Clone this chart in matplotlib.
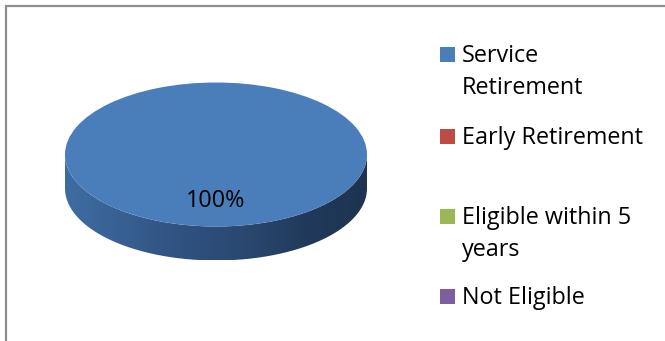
import numpy as np
import matplotlib
matplotlib.use("Agg")
import matplotlib.pyplot as plt
from matplotlib.colors import LinearSegmentedColormap
from matplotlib.patches import PathPatch, Rectangle
from matplotlib.path import Path

W, H = 665, 341

categories = ["Service\nRetirement", "Early Retirement", "Eligible within 5\nyears", "Not Eligible"]
shares = [100, 0, 0, 0]
colors = ["#4a7ebb", "#be4b48", "#98b954", "#7d5fa0"]
legend_y = [54, 136, 216, 296]
side_colors = ["#3f6da3", "#375f90", "#2f5180", "#2a486f", "#213a5c", "#1d3350"]

plt.rcParams["font.family"] = ["Open Sans", "DejaVu Sans"]

fig = plt.figure(figsize=(W / 100, H / 100), dpi=100)

# page-level axes in pixel units, y pointing down
bg = fig.add_axes([0, 0, 1, 1])
bg.axis("off")

# chart frame, only the top and left edges fall on the page
bg.plot([5.5, 5.5, W], [H, 5.5, 5.5], color="#8e8e8e", lw=1.6, solid_joinstyle="miter")

cx, cy, rx, ry, depth = 216, 154.5, 151, 72, 34

# side wall of the disc
t = np.linspace(np.pi, 0, 120)
lower_x = cx + rx * np.cos(t)
lower_y = cy + ry * np.sin(t)
wall_x = np.r_[lower_x, lower_x[::-1]]
wall_y = np.r_[lower_y + depth, lower_y[::-1]]
wall = Path(np.c_[wall_x, wall_y])
cmap = LinearSegmentedColormap.from_list("side", side_colors)
img = bg.imshow(np.linspace(0, 1, 256)[None, :], cmap=cmap, aspect="auto",
                extent=(cx - rx, cx + rx, cy + ry + depth, cy), zorder=1)
img.set_clip_path(PathPatch(wall, transform=bg.transData))
bg.set_xlim(0, W)
bg.set_ylim(H, 0)

# top face of the disc
pie_ax = fig.add_axes([(cx - rx) / W, 1 - (cy + ry) / H, 2 * rx / W, 2 * ry / H])
pie_ax.pie(shares, colors=colors, radius=1, startangle=90)
pie_ax.set_aspect("auto")
pie_ax.set_xlim(-1, 1)
pie_ax.set_ylim(-1, 1)
pie_ax.patch.set_alpha(0)

fig.text(216 / W, 1 - 201 / H, f"{shares[0]}%", ha="center", va="center", fontsize=16.8, color="black", zorder=5)

# legend keys and labels
for name, col, y in zip(categories, colors, legend_y):
    bg.add_patch(Rectangle((440, y - 7.5), 15, 15, facecolor=col, edgecolor="none"))
    for i, line in enumerate(name.split("\n")):
        bg.text(462, y + 2 + i * 32.5, line, ha="left", va="center", fontsize=16.8, color="black")

fig.savefig("out.png", dpi=100)
plt.close(fig)
